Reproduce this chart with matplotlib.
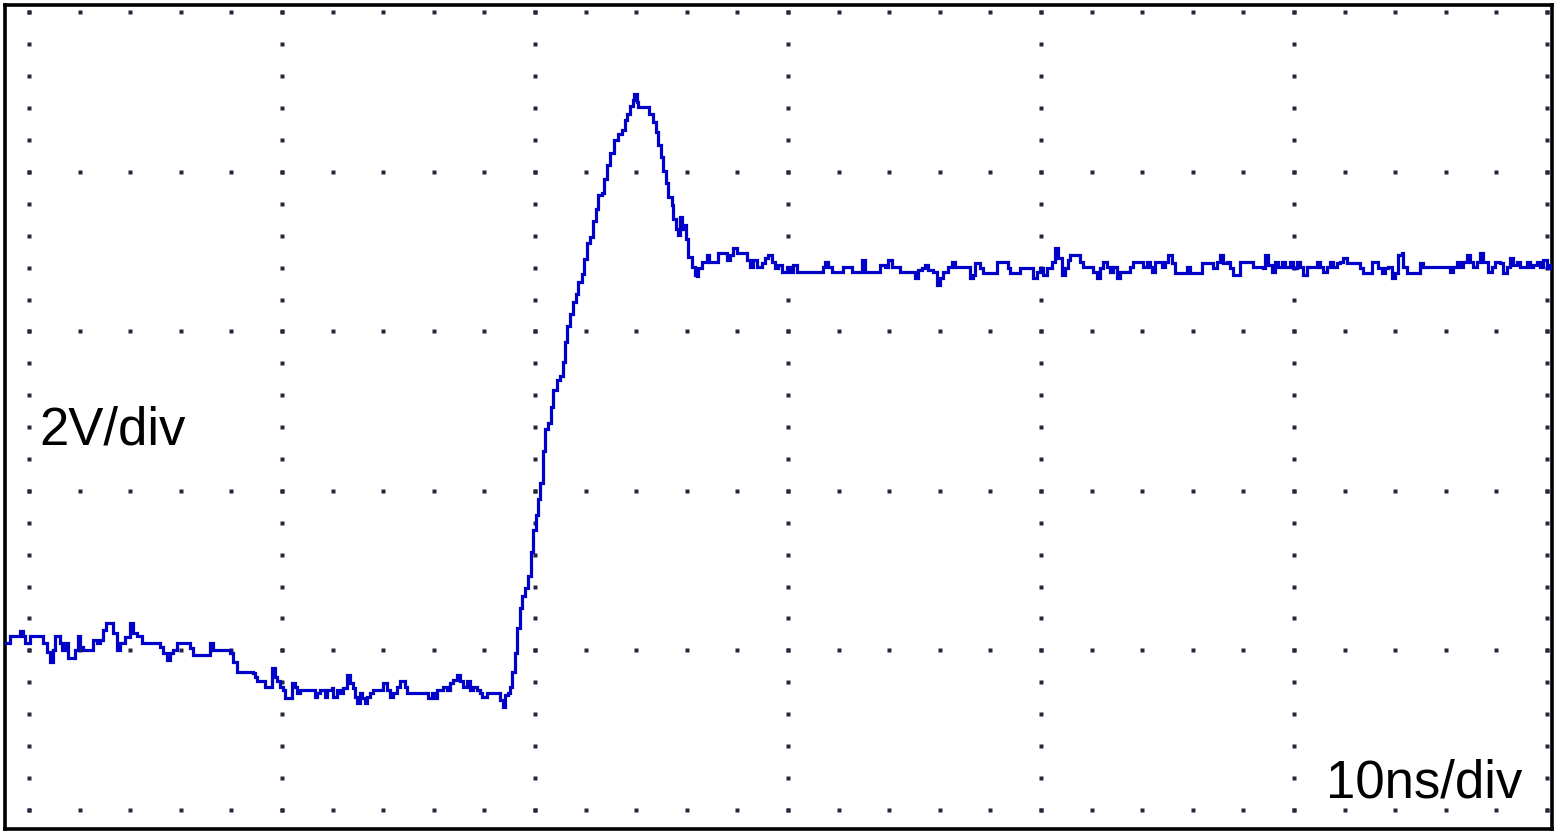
import matplotlib
matplotlib.use("Agg")
import matplotlib.pyplot as plt
import numpy as np

# ---------------- data (time in ns, voltage in V) ----------------
# pre-trigger baseline
t_pre = [-0.95, -0.75, -0.55, -0.36, -0.24, -0.16, 0.04, 0.43, 0.55, 0.71,
         0.83, 0.95, 1.03, 1.23, 1.30, 1.42, 1.54, 1.74, 1.82, 1.94,
         2.02, 2.13, 2.41, 2.53, 2.69, 2.81, 2.92, 3.04, 3.20, 3.32,
         3.48, 3.60, 3.79, 3.99, 4.11, 4.27, 4.47, 4.98, 5.18, 5.30,
         5.45, 5.57, 5.69, 5.85, 6.25, 6.36, 6.48, 6.96, 7.15, 7.27,
         7.75, 7.94, 8.06, 8.22, 8.74]
v_pre = [2.09, 2.18, 2.18, 2.24, 2.18, 2.09, 2.18, 2.18, 2.09, 1.98,
         1.86, 2.01, 2.18, 2.09, 2.01, 2.09, 1.91, 1.91, 2.01, 2.18,
         2.04, 2.01, 2.01, 2.13, 2.09, 2.13, 2.26, 2.34, 2.34, 2.22,
         2.01, 2.09, 2.17, 2.34, 2.22, 2.18, 2.09, 2.09, 2.04, 1.97,
         1.88, 1.97, 2.01, 2.09, 2.09, 2.03, 1.94, 1.94, 2.09, 2.01,
         2.01, 1.97, 1.86, 1.73, 1.73]

# lower plateau before the edge
t_low = [8.85, 8.93, 9.01, 9.25, 9.33, 9.53, 9.60, 9.72, 9.80, 9.92,
         10.04, 10.12, 10.32, 10.40, 10.51, 10.59, 10.71, 11.23, 11.30, 11.38,
         11.50, 11.62, 11.70, 11.78, 11.98, 12.02, 12.17, 12.29, 12.41, 12.57,
         12.69, 12.81, 12.89, 12.96, 13.08, 13.16, 13.28, 13.36, 13.48, 13.60,
         13.87, 13.99, 14.15, 14.27, 14.39, 14.55, 14.66, 14.78, 14.86, 14.94,
         15.73, 15.77, 15.93, 16.05, 16.13, 16.36, 16.52, 16.64, 16.76, 16.92,
         17.04, 17.15, 17.31, 17.43, 17.55, 17.71, 17.83, 17.91, 18.10, 18.50,
         18.62, 18.74, 18.81, 18.93, 19.01]
v_low = [1.72, 1.66, 1.61, 1.61, 1.54, 1.54, 1.78, 1.67, 1.61, 1.54,
         1.50, 1.40, 1.40, 1.59, 1.54, 1.47, 1.50, 1.50, 1.42, 1.47,
         1.50, 1.50, 1.42, 1.50, 1.53, 1.42, 1.50, 1.47, 1.53, 1.69,
         1.59, 1.53, 1.42, 1.34, 1.47, 1.40, 1.34, 1.42, 1.47, 1.50,
         1.50, 1.59, 1.50, 1.42, 1.47, 1.54, 1.61, 1.61, 1.54, 1.47,
         1.47, 1.40, 1.47, 1.40, 1.50, 1.54, 1.50, 1.59, 1.63, 1.69,
         1.61, 1.54, 1.61, 1.50, 1.54, 1.50, 1.47, 1.42, 1.47, 1.47,
         1.38, 1.29, 1.44, 1.47, 1.54]

# rising edge, overshoot and fall back
t_edge = [19.09, 19.21, 19.29, 19.41, 19.49, 19.60, 19.72, 19.84, 19.92, 20.04,
          20.12, 20.20, 20.32, 20.40, 20.51, 20.63, 20.71, 20.87, 20.99, 21.11,
          21.19, 21.26, 21.38, 21.50, 21.62, 21.70, 21.86, 21.94, 22.06, 22.17,
          22.29, 22.41, 22.49, 22.65, 22.73, 22.85, 22.96, 23.12, 23.28, 23.44,
          23.56, 23.64, 23.75, 23.87, 23.91, 24.03, 24.07, 24.43, 24.51, 24.66,
          24.78, 24.86, 24.98, 25.06, 25.18, 25.26, 25.42, 25.45, 25.57, 25.65,
          25.73, 25.81, 25.85, 25.97, 26.05, 26.21, 26.32, 26.40, 26.44]
v_edge = [1.73, 1.97, 2.28, 2.53, 2.68, 2.78, 2.93, 3.24, 3.51, 3.70,
          3.90, 4.10, 4.50, 4.78, 4.85, 5.05, 5.27, 5.39, 5.44, 5.62,
          5.87, 6.07, 6.22, 6.37, 6.47, 6.62, 6.72, 6.91, 7.11, 7.18,
          7.39, 7.54, 7.71, 7.74, 7.91, 8.09, 8.24, 8.40, 8.48, 8.53,
          8.65, 8.73, 8.83, 8.90, 8.98, 8.88, 8.82, 8.82, 8.73, 8.63,
          8.50, 8.34, 8.19, 8.01, 7.86, 7.69, 7.59, 7.41, 7.29, 7.21,
          7.44, 7.29, 7.34, 7.16, 6.93, 6.81, 6.71, 6.70, 6.80]

# settled high level
t_high = [26.60, 26.80, 26.88, 27.11, 27.23, 27.43, 27.59, 27.71, 27.83, 27.98,
          28.22, 28.38, 28.50, 28.62, 28.77, 28.97, 29.09, 29.21, 29.37, 29.49,
          29.60, 29.76, 29.96, 30.08, 30.20, 30.36, 31.26, 31.38, 31.46, 31.58,
          31.74, 32.06, 32.17, 32.37, 32.53, 32.85, 32.92, 33.04, 33.52, 33.64,
          33.83, 33.95, 34.11, 34.31, 34.43, 34.94, 35.02, 35.14, 35.30, 35.42,
          35.53, 35.73, 35.89, 36.01, 36.13, 36.32, 36.48, 36.60, 37.00, 37.19,
          37.31, 37.39, 37.51, 37.59, 37.71, 38.10, 38.26, 38.66, 38.70, 38.77,
          39.05, 39.17, 39.57, 39.68, 39.84, 39.96, 40.08, 40.24, 40.43, 40.55,
          40.67, 40.83, 40.95, 41.07, 41.15, 41.42, 41.54, 41.66, 41.94, 42.06,
          42.21, 42.33, 42.45, 42.61, 42.73, 42.85, 43.00, 43.12, 43.40, 43.52,
          43.64, 43.91, 44.03, 44.19, 44.31, 44.39, 44.51, 44.78, 44.90, 45.02,
          45.18, 45.30, 45.69, 45.77, 45.89, 46.28, 46.36, 46.68, 46.80, 46.96,
          47.08, 47.19, 47.35, 47.47, 47.59, 47.75, 47.87, 48.26, 48.38, 48.66,
          48.77, 48.85, 48.97, 49.13, 49.25, 49.37, 49.53, 49.64, 49.84, 49.96,
          50.12, 50.24, 50.36, 50.51, 50.75, 50.91, 51.03, 51.15, 51.30, 51.42,
          51.54, 51.70, 51.82, 51.94, 52.09, 52.49, 52.61, 52.73, 52.89, 53.08,
          53.28, 53.32, 53.48, 53.60, 53.72, 53.87, 53.99, 54.11, 54.27, 54.31,
          54.47, 54.86, 54.98, 55.10, 56.05, 56.17, 56.28, 56.44, 56.56, 56.68,
          56.84, 56.96, 57.08, 57.23, 57.35, 57.47, 57.67, 57.83, 57.94, 58.14,
          58.26, 58.42, 58.54, 58.66, 58.81, 58.93, 59.05, 59.21, 59.33, 59.45,
          59.60, 59.72, 59.84, 60.00, 60.12]
v_high = [6.87, 6.96, 6.87, 6.87, 6.98, 6.98, 6.90, 6.96, 7.05, 6.98,
          6.98, 6.90, 6.81, 6.90, 6.81, 6.86, 6.92, 6.96, 6.87, 6.80,
          6.83, 6.75, 6.81, 6.75, 6.83, 6.75, 6.75, 6.81, 6.87, 6.81,
          6.75, 6.75, 6.81, 6.81, 6.75, 6.75, 6.90, 6.75, 6.75, 6.83,
          6.81, 6.90, 6.81, 6.81, 6.75, 6.75, 6.67, 6.77, 6.80, 6.83,
          6.77, 6.75, 6.58, 6.67, 6.75, 6.81, 6.87, 6.81, 6.81, 6.67,
          6.71, 6.86, 6.86, 6.80, 6.73, 6.73, 6.87, 6.87, 6.80, 6.73,
          6.73, 6.80, 6.80, 6.67, 6.75, 6.80, 6.71, 6.80, 6.87, 7.05,
          6.92, 6.71, 6.80, 6.90, 6.96, 6.96, 6.87, 6.81, 6.81, 6.75,
          6.67, 6.80, 6.87, 6.81, 6.75, 6.81, 6.67, 6.75, 6.75, 6.81,
          6.87, 6.87, 6.81, 6.87, 6.81, 6.75, 6.87, 6.81, 6.87, 6.96,
          6.86, 6.73, 6.73, 6.81, 6.73, 6.73, 6.86, 6.86, 6.80, 6.87,
          6.96, 6.86, 6.87, 6.80, 6.71, 6.71, 6.87, 6.87, 6.81, 6.81,
          6.80, 6.96, 6.83, 6.75, 6.87, 6.81, 6.87, 6.81, 6.87, 6.80,
          6.87, 6.81, 6.71, 6.81, 6.81, 6.87, 6.81, 6.75, 6.81, 6.87,
          6.81, 6.86, 6.87, 6.92, 6.86, 6.86, 6.80, 6.73, 6.73, 6.87,
          6.87, 6.80, 6.73, 6.80, 6.81, 6.67, 6.73, 6.96, 6.98, 6.81,
          6.73, 6.73, 6.86, 6.81, 6.81, 6.75, 6.81, 6.87, 6.81, 6.87,
          6.96, 6.87, 6.81, 6.87, 6.98, 6.87, 6.75, 6.81, 6.87, 6.86,
          6.73, 6.81, 6.92, 6.83, 6.87, 6.81, 6.81, 6.87, 6.81, 6.83,
          6.87, 6.81, 6.90, 6.80, 6.83]

# screen graticule: 6 x 5 divisions, 10 ns/div, 2 V/div
time_div_lines = [0, 10, 20, 30, 40, 50, 60]
volt_div_lines = [0, 2, 4, 6, 8, 10]
label_volts = "2V/div"
label_time = "10ns/div"

t_all = np.array(t_pre + t_low + t_edge + t_high)
v_all = np.array(v_pre + v_low + v_edge + v_high)

# ---------------- figure ----------------
W, H = 1558, 835
fig = plt.figure(figsize=(W / 100, H / 100), dpi=100)
ax = fig.add_axes([4.5 / W, 6 / H, (1552 - 4.5) / W, (829 - 4.5) / H])
ax.set_xlim(-0.97, 60.20)
ax.set_ylim(-0.24, 10.10)

# dotted graticule
sub_t = np.arange(time_div_lines[0], time_div_lines[-1] + 0.001, 2.0)
sub_v = np.arange(volt_div_lines[0], volt_div_lines[-1] + 0.001, 0.4)
gx, gy = [], []
for tl in time_div_lines:
    gx.extend([tl] * len(sub_v))
    gy.extend(sub_v)
for vl in volt_div_lines:
    gx.extend(sub_t)
    gy.extend([vl] * len(sub_t))
ax.plot(gx, gy, linestyle="none", marker="s", markersize=2.3,
        color="#26263a", mec="none", zorder=1)

# trace
ax.plot(t_all, v_all, color="#0000c8", linewidth=2.3,
        drawstyle="steps-post", zorder=3, solid_joinstyle="miter")

# annotations
font = ["Liberation Sans", "DejaVu Sans"]
ax.text(0.40, 4.58, label_volts, family=font, fontsize=38,
        ha="left", va="baseline", color="black", zorder=4)
ax.text(51.25, 0.16, label_time, family=font, fontsize=38,
        ha="left", va="baseline", color="black", zorder=4)

ax.set_xticks([])
ax.set_yticks([])
for s in ax.spines.values():
    s.set_linewidth(2.6)
    s.set_color("black")

fig.savefig("out.png", dpi=100, facecolor="white")
